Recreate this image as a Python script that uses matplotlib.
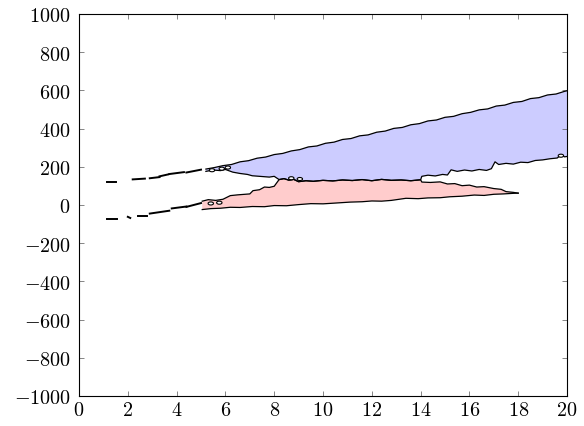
import matplotlib
matplotlib.use("Agg")
import matplotlib.pyplot as plt
import numpy as np
from matplotlib.patches import Ellipse
from matplotlib.ticker import FuncFormatter, MultipleLocator

plt.rcParams['mathtext.fontset'] = 'cm'

# upper edge of the blue band
blue_top_x = [5.2, 5.55, 5.9, 6.25, 6.6, 6.95, 7.3, 7.65, 8.0, 8.35, 8.7, 9.05,
              9.4, 9.75, 10.1, 10.45, 10.8, 11.15, 11.5, 11.85, 12.2, 12.55,
              12.9, 13.25, 13.6, 13.95, 14.3, 14.65, 15.0, 15.35, 15.7, 16.05,
              16.4, 16.75, 17.1, 17.45, 17.8, 18.15, 18.5, 18.85, 19.2, 19.55,
              19.9, 20.0]
blue_top_y = [188, 196, 206, 212, 226, 232, 245, 251, 264, 270, 283, 290,
              304, 309, 323, 329, 343, 348, 362, 367, 381, 387,
              401, 406, 420, 426, 440, 445, 459, 464, 478, 485,
              498, 503, 518, 523, 537, 542, 557, 562, 576, 581,
              595, 598]

# edge shared by the blue and the red band
shared_x = [8.2, 8.4, 8.6, 8.8, 9.0, 9.3, 9.6, 10.0, 10.4, 10.8, 11.2, 11.6,
            12.0, 12.4, 12.8, 13.2, 13.6, 14.0]
shared_y = [133, 138, 130, 134, 122, 127, 124, 129, 126, 131, 128, 133,
            127, 134, 129, 131, 127, 132]

# lower edge of the blue band, left and right of the shared part
blue_bot_lx = [5.2, 5.5, 5.8, 6.0, 6.3, 6.6, 6.9, 7.1, 7.4, 7.8, 8.0]
blue_bot_ly = [176, 183, 180, 186, 172, 165, 160, 153, 150, 146, 150]
blue_bot_rx = [14.05, 14.3, 14.6, 14.9, 15.1, 15.25, 15.5, 15.8, 16.1, 16.4,
               16.7, 16.9, 17.05, 17.2, 17.5, 17.8, 18.1, 18.4, 18.7, 19.0,
               19.3, 19.6, 19.75, 19.9, 20.0]
blue_bot_ry = [150, 156, 152, 160, 157, 184, 176, 183, 178, 186,
               181, 190, 226, 212, 218, 214, 224, 222, 233, 236,
               242, 246, 262, 252, 254]

# upper edge of the red band, left and right of the shared part
red_top_lx = [5.05, 5.3, 5.6, 5.9, 6.2, 6.5, 6.8, 7.0, 7.13, 7.4, 7.6, 7.8, 8.0]
red_top_ly = [20, 28, 24, 30, 49, 53, 56, 58, 75, 80, 94, 92, 98]
red_top_rx = [14.05, 14.4, 14.8, 15.1, 15.4, 15.7, 16.0, 16.3, 16.6, 17.0,
              17.3, 17.5, 17.8, 18.0]
red_top_ry = [120, 118, 121, 110, 112, 101, 104, 94, 96, 86,
              82, 70, 66, 62]

# lower edge of the red band
red_bot_x = [5.05, 5.4, 5.8, 6.2, 6.6, 7.1, 7.6, 8.0, 8.5, 9.0, 9.5, 10.0,
             10.5, 11.1, 11.6, 12.0, 12.4, 12.8, 13.4, 13.9, 14.3, 14.8,
             15.2, 15.7, 16.2, 16.6, 17.0, 17.4, 17.8, 18.0]
red_bot_y = [-24, -19, -17, -12, -13, -8, -9, -3, -4, 2, 7, 6,
             10, 15, 17, 21, 20, 24, 35, 33, 37, 38,
             43, 46, 52, 50, 56, 58, 61, 62]

# broken pieces left of the bands
upper_bits = [([1.15, 1.5], [120, 120]), ([2.2, 2.7], [134, 138]),
              ([2.9, 3.3], [140, 146]), ([3.3, 3.65], [150, 160]),
              ([3.7, 4.3], [162, 172]), ([4.4, 5.0], [170, 185])]
lower_bits = [([1.15, 1.55], [-73, -73]), ([2.0, 2.1], [-62, -68]),
              ([2.4, 2.8], [-58, -58]), ([2.9, 3.7], [-45, -30]),
              ([3.8, 4.4], [-18, -8]), ([4.4, 5.0], [-10, 10])]

# small holes inside the bands
holes = [(5.45, 182), (5.85, 190), (6.1, 196), (5.4, 8), (5.75, 12),
         (8.7, 140), (9.05, 136), (19.75, 258)]

fig = plt.figure(figsize=(5.84, 4.27), dpi=100)
ax = fig.add_axes([0.1353, 0.0703, 0.8356, 0.8946])

blue_bot_x = blue_bot_lx + shared_x + blue_bot_rx
blue_bot_y = blue_bot_ly + shared_y + blue_bot_ry
red_top_x = red_top_lx + shared_x + red_top_rx
red_top_y = red_top_ly + shared_y + red_top_ry


def band(tx, ty, bx, by, color):
    px = np.concatenate([tx, bx[::-1]])
    py = np.concatenate([ty, by[::-1]])
    ax.fill(px, py, facecolor=color, edgecolor='none', zorder=1)
    ax.plot(tx, ty, color='black', lw=0.9, zorder=2)
    ax.plot(bx, by, color='black', lw=0.9, zorder=2)


band(blue_top_x, blue_top_y, blue_bot_x, blue_bot_y, '#ccccff')
band(red_top_x, red_top_y, red_bot_x, red_bot_y, '#ffcccc')

for xs, ys in upper_bits + lower_bits:
    ax.plot(xs, ys, color='black', lw=1.4, zorder=2)

for hx, hy in holes:
    ax.add_patch(Ellipse((hx, hy), 0.22, 16, facecolor='white',
                         edgecolor='black', lw=0.8, zorder=3))

ax.set_xlim(0, 20)
ax.set_ylim(-1000, 1000)
ax.xaxis.set_major_locator(MultipleLocator(2))
ax.yaxis.set_major_locator(MultipleLocator(200))
fmt = FuncFormatter(lambda v, p: f'${v:g}$')
ax.xaxis.set_major_formatter(fmt)
ax.yaxis.set_major_formatter(fmt)
ax.tick_params(direction='in', length=3.5, width=0.5, color='#555555',
               top=True, right=True, labelsize=14.5)
ax.tick_params(axis='y', pad=6)
ax.tick_params(axis='x', pad=3)
for s in ax.spines.values():
    s.set_linewidth(0.8)

fig.savefig('out.png', dpi=100)
